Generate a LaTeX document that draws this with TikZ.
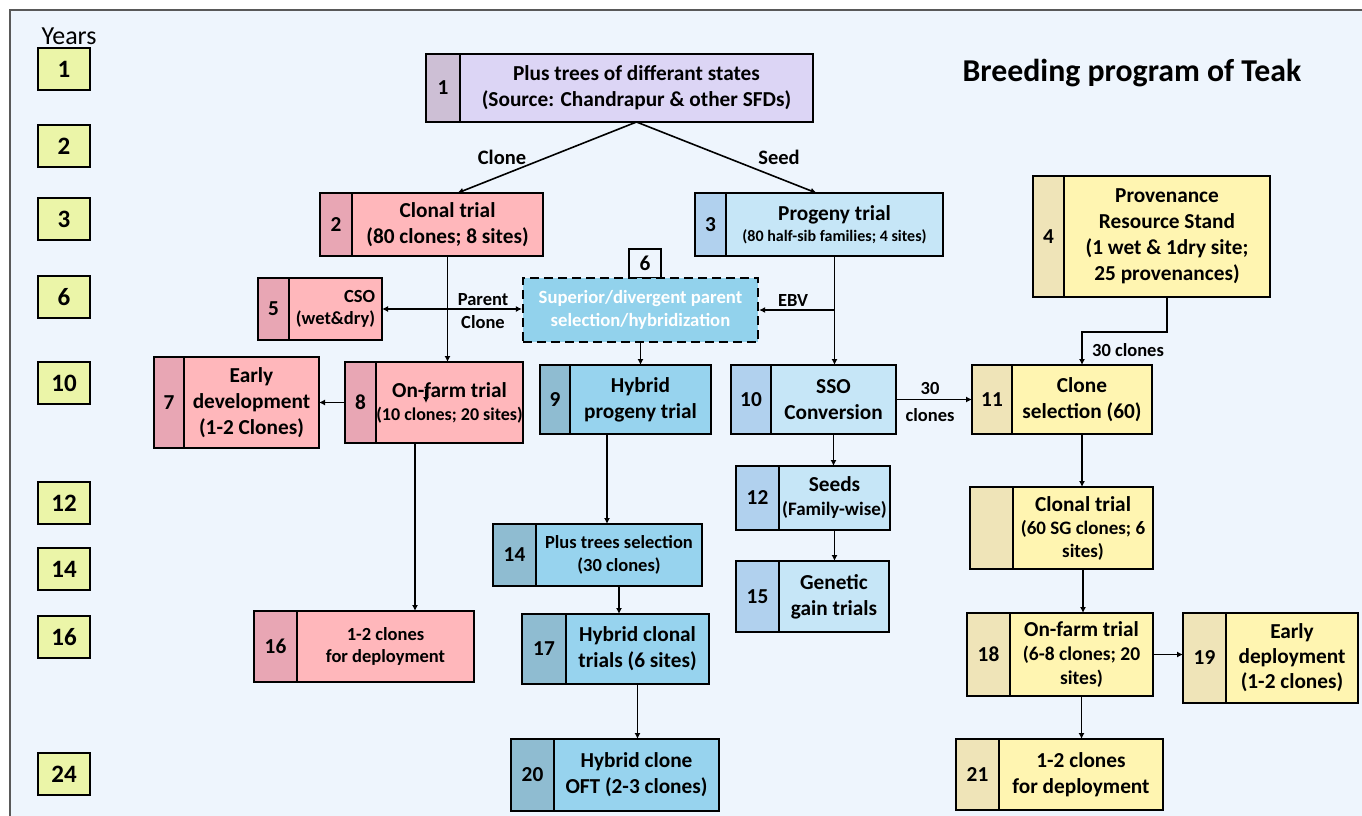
\documentclass[tikz,border=0pt]{standalone}
\usepackage{fontspec}
\setmainfont{Carlito}
\usepackage{tikz}
\usetikzlibrary{positioning, arrows.meta}

\definecolor{bgblue}{HTML}{EEF5FD}
\definecolor{yrfill}{HTML}{EBF5A8}
\definecolor{purnum}{HTML}{CDBFD5}
\definecolor{purmain}{HTML}{DCD5F5}
\definecolor{pinknum}{HTML}{E8A6B4}
\definecolor{pinkmain}{HTML}{FFB7BB}
\definecolor{hybnum}{HTML}{8FBCD1}
\definecolor{hybmain}{HTML}{97D3EE}
\definecolor{prognum}{HTML}{B1D1EE}
\definecolor{progmain}{HTML}{C6E6F7}
\definecolor{selfill}{HTML}{92D2EC}
\definecolor{yelnum}{HTML}{EFE4B8}
\definecolor{yelmain}{HTML}{FFF5B1}

\begin{document}
\begin{tikzpicture}[
  x=1pt, y=-1pt,
  font=\bfseries\fontsize{21.3}{26}\selectfont,
  cell/.style={draw, line width=2.2pt, inner sep=1pt, outer sep=0pt, align=center},
  purN/.style={cell, fill=purnum},   purM/.style={cell, fill=purmain},
  pinkN/.style={cell, fill=pinknum}, pinkM/.style={cell, fill=pinkmain},
  hybN/.style={cell, fill=hybnum},   hybM/.style={cell, fill=hybmain},
  progN/.style={cell, fill=prognum}, progM/.style={cell, fill=progmain},
  yelN/.style={cell, fill=yelnum},   yelM/.style={cell, fill=yelmain},
  yr/.style={draw, line width=2.2pt, fill=yrfill, minimum width=52pt,
    minimum height=42pt, font=\bfseries\fontsize{25}{28}\selectfont},
  lbl/.style={font=\bfseries\fontsize{18.5}{21}\selectfont},
  sml/.style={font=\bfseries\fontsize{18.5}{22}\selectfont},
  arr/.style={-{Latex[length=6pt,width=6pt]}, line width=1.6pt},
]
  \useasboundingbox (0,0) rectangle (1362,816);
  \clip (0,0) rectangle (1362,816);
  \fill[white] (0,0) rectangle (1362,816);
  \draw[line width=1.5pt, draw=black!65, fill=bgblue] (10,10) rectangle (1380,830);

  % years
  \node[font=\fontsize{26}{28}\selectfont] (years) at (69,36) {Years};
  \node[yr] (y1) at (64,69) {1};
  \node[yr] (y2) at (64,146) {2};
  \node[yr] (y3) at (64,219) {3};
  \node[yr] (y6) at (64,297) {6};
  \node[yr] (y10) at (64,383) {10};
  \node[yr] (y12) at (64,503) {12};
  \node[yr] (y14) at (64,569) {14};
  \node[yr] (y16) at (64,637) {16};
  \node[yr] (y24) at (64,774) {24};

  \node[font=\bfseries\fontsize{31.8}{34}\selectfont] (title) at (1132,73) {Breeding program of Teak};

  % top
  \node[purN, minimum width=34pt, minimum height=68pt] (n1) at (443,88) {1};
  \node[purM, right=0pt of n1, minimum width=353pt, minimum height=68pt] (b1)
    {Plus trees of differant states\\(Source: Chandrapur \& other SFDs)};

  % clonal line
  \node[pinkN, minimum width=32pt, minimum height=63pt] (n2) at (336,224.5) {2};
  \node[pinkM, right=0pt of n2, minimum width=191pt, minimum height=63pt] (b2)
    {Clonal trial\\(80 clones; 8 sites)};
  \node[pinkN, minimum width=31pt, minimum height=62pt] (n5) at (273.5,309) {5};
  \node[pinkM, right=0pt of n5, minimum width=93pt, minimum height=62pt, sml, align=right] (b5)
    {CSO\\(wet\&dry)};
  \node[pinkN, minimum width=30pt, minimum height=91pt] (n7) at (169,402.5) {7};
  \node[pinkM, right=0pt of n7, minimum width=135pt, minimum height=91pt] (b7)
    {Early\\development\\(1-2 Clones)};
  \node[pinkN, minimum width=31pt, minimum height=81pt] (n8) at (360.5,402.5) {8};
  \node[pinkM, right=0pt of n8, minimum width=147pt, minimum height=81pt, inner sep=0pt,
    font=\bfseries\fontsize{18}{23}\selectfont] (b8)
    {{\fontsize{21.3}{23}\selectfont On-farm trial}\\(10 clones; 20 sites)};
  \node[pinkN, minimum width=43pt, minimum height=71pt] (n16) at (275.5,646.5) {16};
  \node[pinkM, right=0pt of n16, minimum width=177pt, minimum height=71pt, sml] (b16)
    {1-2 clones\\for deployment};

  % selection / hybrid line
  \node[draw, line width=2.2pt, fill=bgblue, minimum width=32pt, minimum height=29pt,
    inner sep=0pt] (t6) at (645,263.5) {6};
  \node[draw, dash pattern=on 9pt off 5pt, line width=2.2pt, fill=selfill, text=white,
    minimum width=235pt, minimum height=64pt, align=center,
    font=\bfseries\fontsize{18.7}{23}\selectfont] (sel) at (640.5,310)
    {Superior/divergent parent\\selection/hybridization};
  \node[hybN, minimum width=30pt, minimum height=69pt] (n9) at (555,399.5) {9};
  \node[hybM, right=0pt of n9, minimum width=141pt, minimum height=69pt] (b9)
    {Hybrid\\progeny trial};
  \node[hybN, minimum width=43pt, minimum height=62pt] (n14) at (514.5,555) {14};
  \node[hybM, right=0pt of n14, minimum width=166pt, minimum height=62pt,
    font=\bfseries\fontsize{18.5}{23}\selectfont] (b14)
    {Plus trees selection\\(30 clones)};
  \node[hybN, minimum width=44pt, minimum height=70pt] (n17) at (544,649) {17};
  \node[hybM, right=0pt of n17, minimum width=143pt, minimum height=70pt] (b17)
    {Hybrid clonal\\trials (6 sites)};
  \node[hybN, minimum width=43pt, minimum height=72pt] (n20) at (532.5,775) {20};
  \node[hybM, right=0pt of n20, minimum width=165pt, minimum height=72pt] (b20)
    {Hybrid clone\\OFT (2-3 clones)};

  % seed line
  \node[progN, minimum width=31pt, minimum height=63pt] (n3) at (710.5,224.5) {3};
  \node[progM, right=0pt of n3, minimum width=217pt, minimum height=63pt,
    font=\bfseries\fontsize{16}{21}\selectfont] (b3)
    {{\fontsize{21.3}{21}\selectfont Progeny trial}\\(80 half-sib families; 4 sites)};
  \node[progN, minimum width=40pt, minimum height=69pt] (n10) at (751,399.5) {10};
  \node[progM, right=0pt of n10, minimum width=125pt, minimum height=69pt] (b10)
    {SSO\\Conversion};
  \node[progN, minimum width=43pt, minimum height=64pt] (n12) at (757.5,498) {12};
  \node[progM, right=0pt of n12, minimum width=111pt, minimum height=64pt,
    font=\bfseries\fontsize{19}{24}\selectfont] (b12)
    {{\fontsize{21.3}{24}\selectfont Seeds}\\(Family-wise)};
  \node[progN, minimum width=43pt, minimum height=71pt] (n15) at (757.5,596.5) {15};
  \node[progM, right=0pt of n15, minimum width=110pt, minimum height=71pt] (b15)
    {Genetic\\gain trials};

  % provenance line
  \node[yelN, minimum width=31pt, minimum height=121pt] (n4) at (1048.5,236.5) {4};
  \node[yelM, right=0pt of n4, minimum width=206pt, minimum height=121pt] (b4)
    {Provenance\\Resource Stand\\(1 wet \& 1dry site;\\25 provenances)};
  \node[yelN, minimum width=40pt, minimum height=69pt] (n11) at (992,399.5) {11};
  \node[yelM, right=0pt of n11, minimum width=140pt, minimum height=69pt] (b11)
    {Clone\\selection (60)};
  \node[yelN, minimum width=43pt, minimum height=82pt] (nct) at (991.5,528) {};
  \node[yelM, right=0pt of nct, minimum width=140pt, minimum height=82pt,
    font=\bfseries\fontsize{19}{23}\selectfont] (bct)
    {{\fontsize{21.3}{23}\selectfont Clonal trial}\\(60 SG clones; 6\\sites)};
  \node[yelN, minimum width=43pt, minimum height=83pt] (n18) at (988.5,654.5) {18};
  \node[yelM, right=0pt of n18, minimum width=143pt, minimum height=83pt,
    font=\bfseries\fontsize{19.5}{24}\selectfont] (b18)
    {{\fontsize{21.3}{24}\selectfont On-farm trial}\\(6-8 clones; 20\\sites)};
  \node[yelN, minimum width=43pt, minimum height=90pt] (n19) at (1204.5,658) {19};
  \node[yelM, right=0pt of n19, minimum width=132pt, minimum height=90pt, font=\bfseries\fontsize{21.3}{25}\selectfont] (b19)
    {Early\\deployment\\(1-2 clones)};
  \node[yelN, minimum width=43pt, minimum height=71pt] (n21) at (977.5,774.5) {21};
  \node[yelM, right=0pt of n21, minimum width=164pt, minimum height=71pt] (b21)
    {1-2 clones\\for deployment};

  % labels
  \node[font=\bfseries\fontsize{20.5}{22}\selectfont] (lclone) at (502,157) {Clone};
  \node[font=\bfseries\fontsize{20.5}{22}\selectfont] (lseed) at (779,157) {Seed};
  \node[lbl] (lpar) at (483,300) {Parent};
  \node[lbl] (lpcl) at (483,322) {Clone};
  \node[lbl] (lebv) at (793,300) {EBV};
  \node[lbl] (l30a) at (930,388) {30};
  \node[lbl] (l30b) at (930,415) {clones};
  \node[lbl] (l30c) at (1128,350) {30 clones};
  \coordinate (tick) at (426,389);

  % connectors
  \draw[arr] (b1.south) -- ([xshift=10pt]b2.north);
  \draw[arr] (b1.south) -- ([xshift=-18pt]b3.north);
  \draw[arr] (b2.south) -- (b2.south |- b8.north);
  \draw[arr, {Latex[length=6pt,width=6pt]}-{Latex[length=6pt,width=6pt]}] (b5.east) -- (b5.east -| sel.west);
  \draw[arr] (b3.south) -- (b3.south |- b10.north);
  \draw[arr] (b3.south |- sel.east) -- (sel.east);
  \draw[arr] (sel.south) -- (sel.south |- b9.north);
  \draw[arr] (n8.west) -- (b7.east);
  \draw[arr] ([xshift=-34.5pt]b8.south) -- ([xshift=-34.5pt]b8.south |- b16.north);
  \draw[arr] (tick) -- ++(0,14);
  \draw[arr] ([xshift=-33.5pt]b9.south) -- ([xshift=-33.5pt]b9.south |- b14.north);
  \draw[arr] (b14.south) -- (b14.south |- b17.north);
  \draw[arr] (b17.south) -- (b17.south |- b20.north);
  \draw[arr] (b10.south) -- (b10.south |- b12.north);
  \draw[arr] (b12.south) -- (b12.south |- b15.north);
  \draw[arr] (b10.east) -- (n11.west);
  \draw[arr] (b4.south) -- ++(0,35) -| (b11.north);
  \draw[arr] (b11.south) -- (b11.south |- bct.north);
  \draw[arr] (bct.south) -- (bct.south |- b18.north);
  \draw[arr] (b18.east) -- (b18.east -| n19.west);
  \draw[arr] (b18.south) -- (b18.south |- b21.north);
\end{tikzpicture}
\end{document}
